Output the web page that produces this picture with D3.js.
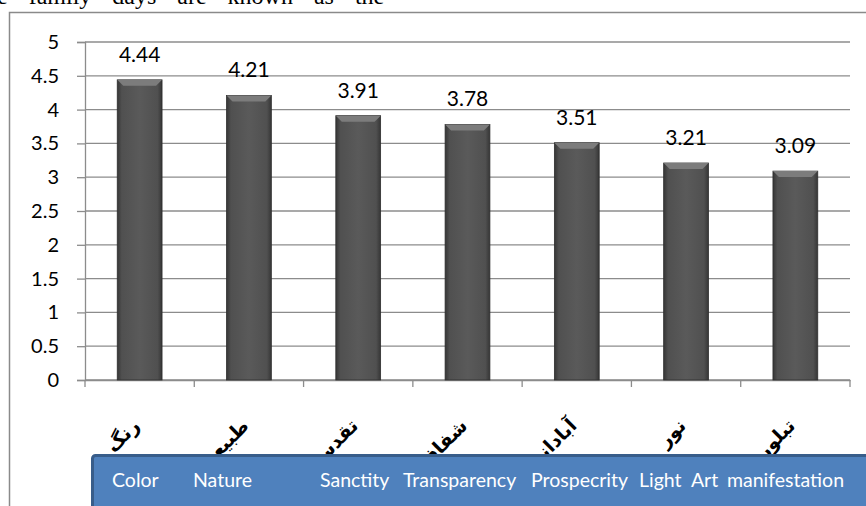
<!DOCTYPE html>
<html>
<head>
<meta charset="utf-8">
<script src="https://cdn.jsdelivr.net/npm/d3@7"></script>
<style>
  body { margin: 0; background: #fff; }
  svg { display: block; }
</style>
</head>
<body>
<div id="chart"></div>
<script>
// data
var categories = ['رنگ', 'طبیعت', 'تقدس', 'شفافیت', 'آبادانی', 'نور', 'تبلور'];
var values = [4.44, 4.21, 3.91, 3.78, 3.51, 3.21, 3.09];
var englishNames = ['Color', 'Nature', 'Sanctity', 'Transparency', 'Prospecrity', 'Light  Art', 'manifestation'];
var yTicks = [0, 0.5, 1, 1.5, 2, 2.5, 3, 3.5, 4, 4.5, 5];

var width = 866, height = 506;
var margin = {left: 85, right: 16, top: 42, bottom: 126};

var svg = d3.select('#chart').append('svg')
    .attr('width', width)
    .attr('height', height);

var defs = svg.append('defs');
var grad = defs.append('linearGradient').attr('id', 'barGrad')
    .attr('x1', '0%').attr('x2', '100%').attr('y1', '0%').attr('y2', '0%');
grad.append('stop').attr('offset', '0%').attr('stop-color', '#363636');
grad.append('stop').attr('offset', '10%').attr('stop-color', '#505050');
grad.append('stop').attr('offset', '50%').attr('stop-color', '#5a5a5a');
grad.append('stop').attr('offset', '90%').attr('stop-color', '#505050');
grad.append('stop').attr('offset', '100%').attr('stop-color', '#363636');

// body text line cut off at the top of the picture
svg.append('text')
    .attr('x', -3).attr('y', 4)
    .attr('font-family', 'Liberation Serif')
    .attr('font-size', 24)
    .attr('word-spacing', 15)
    .text('e family days are known as the');

// chart frame
svg.append('path')
    .attr('d', 'M9.5,' + height + 'V12.5H' + width)
    .attr('fill', 'none')
    .attr('stroke', '#8a8a8a')
    .attr('stroke-width', 1.5);

var x = d3.scaleBand()
    .domain(categories)
    .range([margin.left, width - margin.right])
    .paddingInner(0.59)
    .paddingOuter(0.295);

var y = d3.scaleLinear()
    .domain([0, 5])
    .range([height - margin.bottom, margin.top]);

// gridlines
svg.append('g').selectAll('line')
    .data(yTicks)
    .enter().append('line')
    .attr('x1', margin.left)
    .attr('x2', width - margin.right)
    .attr('y1', function(d){ return y(d); })
    .attr('y2', function(d){ return y(d); })
    .attr('stroke', '#8c8c8c')
    .attr('stroke-width', 1.3);

// y axis
var yAxis = svg.append('g')
    .attr('transform', 'translate(' + margin.left + ',0)')
    .call(d3.axisLeft(y).tickValues(yTicks).tickSize(8).tickPadding(18).tickFormat(d3.format('')));
yAxis.select('.domain').attr('stroke', '#8c8c8c').attr('stroke-width', 1.3);
yAxis.selectAll('.tick line').attr('stroke', '#8c8c8c').attr('stroke-width', 1.3);
yAxis.selectAll('.tick text')
    .attr('font-family', 'Lato, Carlito, sans-serif')
    .attr('font-size', 20)
    .attr('fill', '#000');

// x axis
var xAxis = svg.append('g')
    .attr('transform', 'translate(0,' + (height - margin.bottom) + ')')
    .call(d3.axisBottom(x).tickSize(0).tickFormat(''));
xAxis.select('.domain').attr('stroke', '#8c8c8c').attr('stroke-width', 1.3);

// tick marks between the categories
var edges = categories.map(function(c){ return x(c) - x.step() * x.paddingInner() / 2; });
edges.push(width - margin.right);
svg.append('g').selectAll('line')
    .data(edges)
    .enter().append('line')
    .attr('x1', function(d){ return d; })
    .attr('x2', function(d){ return d; })
    .attr('y1', height - margin.bottom)
    .attr('y2', height - margin.bottom + 7)
    .attr('stroke', '#8c8c8c')
    .attr('stroke-width', 1.3);

// bars
var bars = svg.append('g').selectAll('g')
    .data(values)
    .enter().append('g');

bars.append('rect')
    .attr('x', function(d, i){ return x(categories[i]); })
    .attr('y', function(d){ return y(d); })
    .attr('width', x.bandwidth())
    .attr('height', function(d){ return y(0) - y(d); })
    .attr('fill', 'url(#barGrad)')
    .attr('stroke', '#2e2e2e')
    .attr('stroke-width', 0.8);

// bevel at the top of each bar
bars.append('path')
    .attr('d', function(d, i){
        var x0 = x(categories[i]), w = x.bandwidth(), t = y(d), b = 6;
        return 'M' + x0 + ',' + t + 'H' + (x0 + w) + 'L' + (x0 + w - b) + ',' + (t + b) +
            'H' + (x0 + b) + 'Z';
    })
    .attr('fill', '#7c7c7c');

// value labels
svg.append('g').selectAll('text')
    .data(values)
    .enter().append('text')
    .attr('x', function(d, i){ return x(categories[i]) + x.bandwidth() / 2; })
    .attr('y', function(d){ return y(d) - 18; })
    .attr('text-anchor', 'middle')
    .attr('font-family', 'Lato, Carlito, sans-serif')
    .attr('font-size', 21)
    .attr('fill', '#000')
    .text(function(d){ return d3.format('.2f')(d); });

// persian category labels, rotated
svg.append('g').selectAll('text')
    .data(categories)
    .enter().append('text')
    .attr('transform', function(d){
        return 'translate(' + (x(d) + x.bandwidth() / 2 + 1) + ',' + (height - margin.bottom + 47) + ') rotate(-45)';
    })
    .attr('text-anchor', 'end')
    .attr('font-family', 'DejaVu Sans')
    .attr('font-weight', 'bold')
    .attr('font-size', 19)
    .attr('fill', '#000')
    .text(function(d){ return d; });

// blue text box with the english names
var boxX = 91, boxY = 454;
svg.append('rect')
    .attr('x', boxX + 1.5).attr('y', boxY + 1.5)
    .attr('width', width).attr('height', 60)
    .attr('rx', 3)
    .attr('fill', '#4f81bd')
    .attr('stroke', '#385d8a')
    .attr('stroke-width', 3);

var nameX = [112, 193, 320, 403, 531, 639, 727];
svg.append('g').selectAll('text')
    .data(englishNames)
    .enter().append('text')
    .attr('x', function(d, i){ return nameX[i]; })
    .attr('y', 487)
    .attr('font-family', 'Lato, Carlito, sans-serif')
    .attr('font-size', 19.5)
    .attr('fill', '#fff')
    .attr('xml:space', 'preserve')
    .style('white-space', 'pre')
    .text(function(d){ return d; });
</script>
</body>
</html>
